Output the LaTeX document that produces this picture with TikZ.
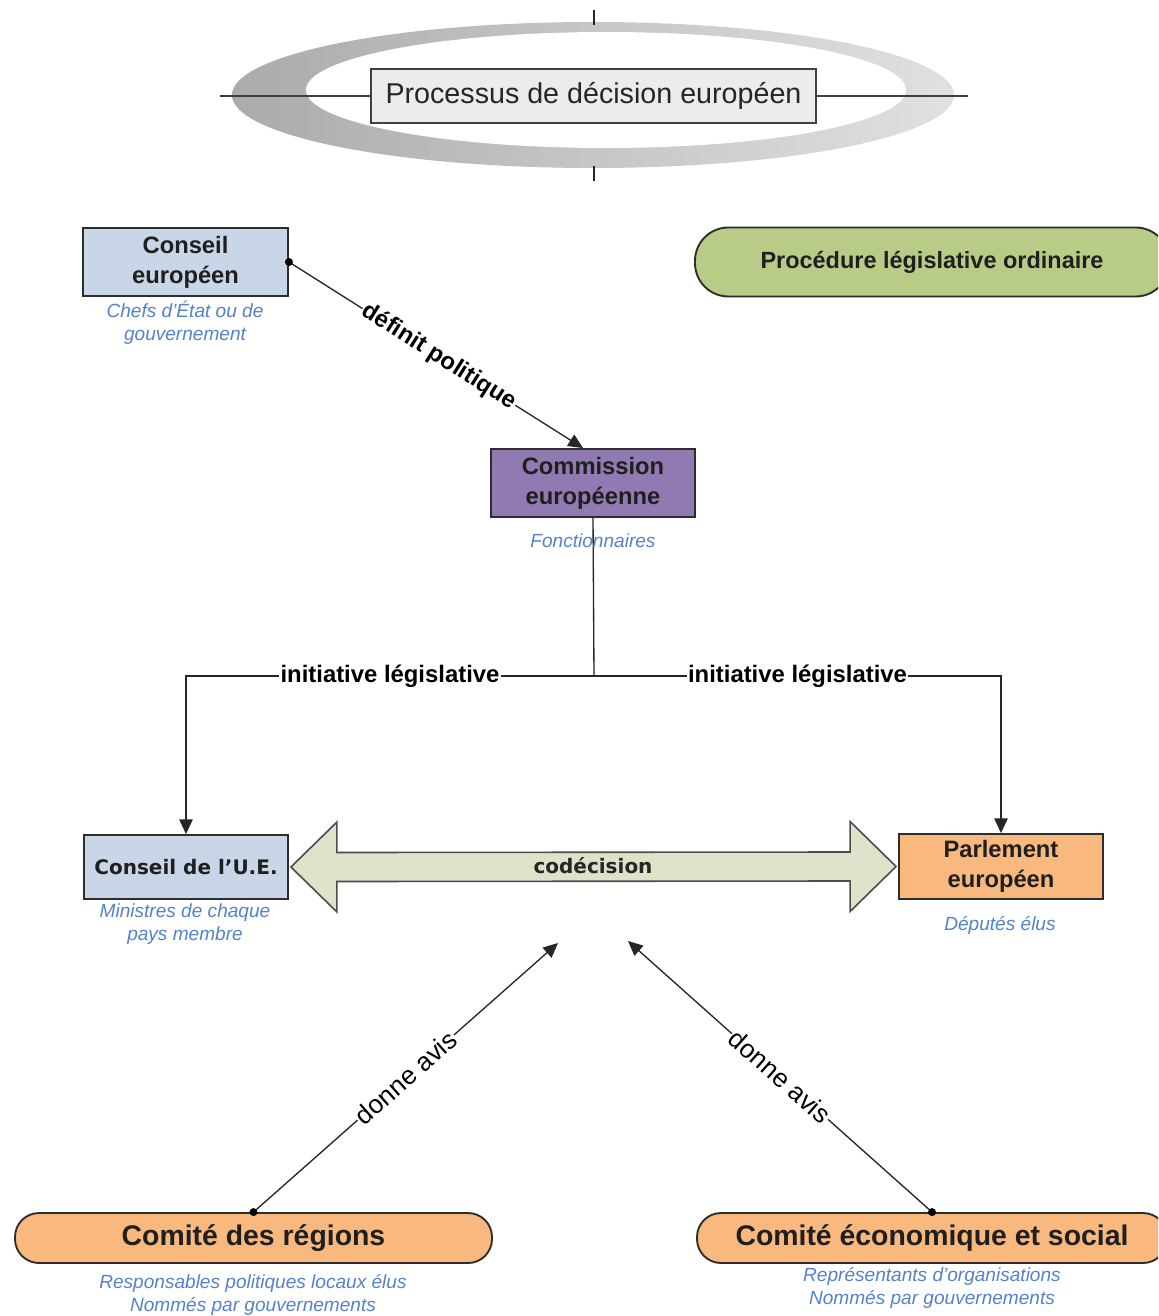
\documentclass[tikz,border=0pt]{standalone}
\usepackage{fontspec}
\setmainfont{Liberation Sans}
\newfontfamily\widefont{DejaVu Sans}
\usetikzlibrary{arrows.meta,calc}
\definecolor{boxline}{RGB}{45,45,45}
\definecolor{subblue}{RGB}{84,130,205}
\definecolor{ceblue}{RGB}{201,214,232}
\definecolor{compurple}{RGB}{145,121,178}
\definecolor{peorange}{RGB}{249,184,126}
\definecolor{plgreen}{RGB}{184,204,136}
\definecolor{codfill}{RGB}{221,226,201}
\definecolor{titlefill}{RGB}{236,236,236}
\tikzset{
  box/.style={draw=boxline, line width=1.4pt, inner sep=0pt, align=center,
    font=\fontsize{17.8}{22.5}\selectfont\bfseries, text=black!88},
  pill/.style={box, minimum height=37.5pt, rounded corners=18pt,
    font=\fontsize{21.3}{24}\selectfont\bfseries},
  sub/.style={align=center, text=subblue, inner sep=0pt,
    font=\fontsize{14.3}{17.25}\selectfont\itshape},
  conn/.style={draw=black!85, line width=1pt},
  arr/.style={conn, -{Triangle[length=11pt,width=10pt]}},
  lbl/.style={fill=white, inner sep=1pt, text=black,
    font=\fontsize{17.9}{20}\selectfont\bfseries},
  avis/.style={fill=white, inner sep=1pt, text=black,
    font=\fontsize{19.5}{22}\selectfont},
}
\begin{document}
\begin{tikzpicture}[x=0.75pt,y=-0.75pt]
\useasboundingbox (0,0) rectangle (1158,1316);
\clip (0,0) rectangle (1158,1316);
\fill[white] (0,0) rectangle (1158,1316);

% title ornament
\shade[left color=black!33, right color=black!12] (593,95) ellipse [x radius=361, y radius=73];
\fill[white] (606,90) ellipse [x radius=300, y radius=58];
\node[draw=black!75, line width=1.5pt, fill=titlefill, minimum width=333.75pt, minimum height=40.5pt,
  inner sep=0pt, font=\fontsize{21.5}{24}\selectfont, text=black!85] (title) at (593.5,96) {Processus de décision européen};
\coordinate (tl) at (220,96);
\coordinate (tr) at (968,96);
\coordinate (tt1) at (594,10);
\coordinate (tt2) at (594,25);
\coordinate (tb1) at (594,166);
\coordinate (tb2) at (594,181);
\draw[black!75, line width=1.5pt] (tl) -- (title.west) (title.east) -- (tr);
\draw[black!85, line width=1.2pt] (tt1) -- (tt2) (tb1) -- (tb2);

% boxes
\node[box, fill=ceblue, minimum width=153.75pt, minimum height=51pt] (ce) at (185.5,262) {Conseil\\européen};
\node[sub] (cesub) at (185,322.5) {Chefs d’État ou de\\gouvernement};

\node[box, fill=plgreen, minimum width=355.5pt, minimum height=51.75pt, rounded corners=25pt,
  font=\fontsize{17.6}{20}\selectfont\bfseries] (plo) at (932,262) {Procédure législative ordinaire};

\node[box, fill=compurple, minimum width=153pt, minimum height=51pt] (com) at (593,483) {Commission\\européenne};

\node[box, fill=ceblue, minimum width=153pt, minimum height=48pt,
  font=\widefont\fontsize{15}{18}\selectfont\bfseries] (cue) at (186,867) {Conseil de l’U.E.};
\node[sub] (cuesub) at (185,924.5) {Ministres de chaque\\pays membre};

\node[box, fill=peorange, minimum width=153pt, minimum height=48.75pt] (pe) at (1001,866.5) {Parlement\\européen};
\node[sub] (pesub) at (1000,925) {Députés élus};

\node[pill, fill=peorange, minimum width=357.75pt] (cr) at (253.5,1238) {Comité des régions};
\node[sub] (crsub) at (253,1294.5) {Responsables politiques locaux élus\\Nommés par gouvernements};

\node[pill, fill=peorange, minimum width=352.5pt] (ces) at (932,1238) {Comité économique et social};
\node[sub] (cessub) at (932,1287.5) {Représentants d’organisations\\Nommés par gouvernements};

% définit politique
\draw[arr] (ce.east) -- node[lbl, sloped, pos=0.51] {définit politique} ([xshift=-7.5pt]com.north);
\fill[black] (ce.east) circle (3pt);

% initiative législative
\coordinate (j) at (594,676);
\draw[conn] (com.south) -- (j);
\node[sub] (comsub) at (593,541) {Fonctionnaires};
\draw[arr] (j) -| node[lbl, pos=0.25] {initiative législative} (cue.north);
\draw[arr] (j) -| node[lbl, pos=0.25] {initiative législative} (pe.north);

% codécision
\draw[fill=codfill, draw=black!70, line width=1.2pt, line join=miter]
  ($(cue.east)+(2,0)$) -- ++(46,-45) -- ++(0,30.5) -- ($(pe.west)+(-48,-14.5)$) -- ++(0,-30.5)
  -- ($(pe.west)+(-2,0)$) -- ++(-46,45) -- ++(0,-30.5) -- ($(cue.east)+(48,14.5)$) -- ++(0,30.5) -- cycle;
\node[font=\widefont\fontsize{15}{18}\selectfont\bfseries, text=black!85] (cod) at (593,866) {codécision};

% donne avis
\coordinate (al) at (558,943);
\coordinate (ar) at (628,941);
\draw[arr] (cr.north) -- node[avis, sloped, pos=0.5] {donne avis} (al);
\fill[black] (cr.north) circle (3pt);
\draw[arr] (ces.north) -- node[avis, sloped, pos=0.5] {donne avis} (ar);
\fill[black] (ces.north) circle (3pt);
\end{tikzpicture}
\end{document}
